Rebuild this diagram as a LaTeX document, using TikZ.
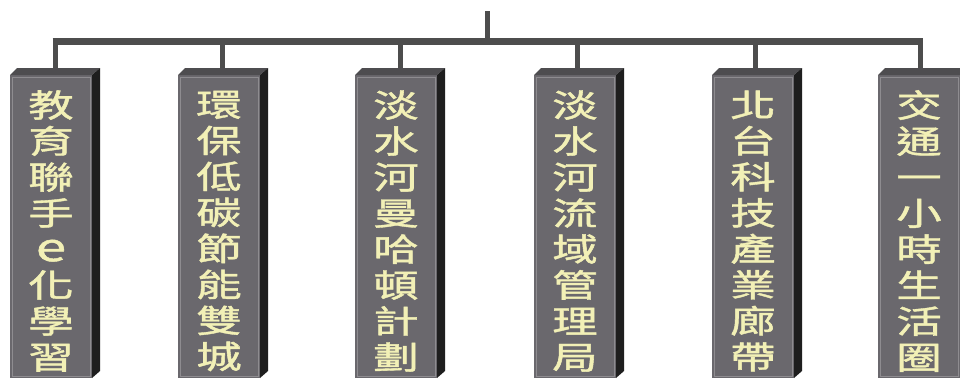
\documentclass[tikz,border=0pt]{standalone}
\usepackage{fontspec}
\newfontfamily\cjk[FakeBold=1.2]{Noto Sans CJK TC}
\usetikzlibrary{calc}
\definecolor{frontcol}{HTML}{6A686D}
\definecolor{topcol}{HTML}{4E4D50}
\definecolor{sidecol}{HTML}{1E1E1E}
\definecolor{barcol}{HTML}{4D4D4D}
\definecolor{txtcol}{HTML}{F2F0B6}
\definecolor{rimcol}{HTML}{8E8C90}
\tikzset{
  x=1pt, y=-1pt,
  pillar/.style={fill=frontcol, draw=none, minimum width=82pt, minimum height=303pt, inner sep=0pt, outer sep=0pt},
  pillartext/.style={text=txtcol, font={\cjk\fontsize{32}{36}\selectfont}, align=center, xscale=1.42, inner sep=0pt},
  barline/.style={draw=barcol, line width=7pt},
  stemline/.style={draw=barcol, line width=5pt},
}
\newcommand{\pillarfaces}[1]{%
  \fill[topcol] (#1.north west) -- ++(7,-7) -- ($(#1.north east)+(8,-7)$) -- (#1.north east) -- cycle;
  \fill[sidecol] (#1.north east) -- ++(8,-7) -- ($(#1.south east)+(8,-7)$) -- (#1.south east) -- cycle;
  \draw[rimcol, line width=0.8pt] ($(#1.north west)+(2,2)$) rectangle ($(#1.south east)+(-2,-2)$);
}
\begin{document}
\begin{tikzpicture}
\useasboundingbox (0,0) rectangle (960,380);
\fill[white] (0,0) rectangle (960,380);

% pillars
\node[pillar] (b1) at (51,226.5) {};
\node[pillar] (b2) at (219,226.5) {};
\node[pillar] (b3) at (396,226.5) {};
\node[pillar] (b4) at (575,226.5) {};
\node[pillar] (b5) at (753,226.5) {};
\node[pillar] (b6) at (919,226.5) {};
\foreach \b in {b1,b2,b3,b4,b5,b6} {\pillarfaces{\b}}

% connectors
\coordinate (top) at (487,11);
\coordinate (jc) at (487,41.5);
\coordinate (j1) at (55,41.5);
\coordinate (j2) at (222,41.5);
\coordinate (j3) at (400,41.5);
\coordinate (j4) at (577,41.5);
\coordinate (j5) at (755,41.5);
\coordinate (j6) at (920,41.5);
\draw[stemline] (top) -- (jc);
\draw[barline] ([xshift=-2.5pt]j1) -- ([xshift=2.5pt]j6);
\foreach \i in {1,...,6} {
  \draw[stemline] (j\i) -- ($(j\i |- b\i.north)+(0,-7)$);
}

% texts
\node[pillartext] (t1) at ($(b1.center)+(0,4.5)$) {教\\育\\聯\\手\\\scalebox{1.2}{e}\\化\\學\\習};
\node[pillartext] (t2) at ($(b2.center)+(0,4.5)$) {環\\保\\低\\碳\\節\\能\\雙\\城};
\node[pillartext] (t3) at ($(b3.center)+(0,4.5)$) {淡\\水\\河\\曼\\哈\\頓\\計\\劃};
\node[pillartext] (t4) at ($(b4.center)+(0,4.5)$) {淡\\水\\河\\流\\域\\管\\理\\局};
\node[pillartext] (t5) at ($(b5.center)+(0,4.5)$) {北\\台\\科\\技\\產\\業\\廊\\帶};
\node[pillartext] (t6) at ($(b6.center)+(0,4.5)$) {交\\通\\一\\小\\時\\生\\活\\圈};
\end{tikzpicture}
\end{document}
